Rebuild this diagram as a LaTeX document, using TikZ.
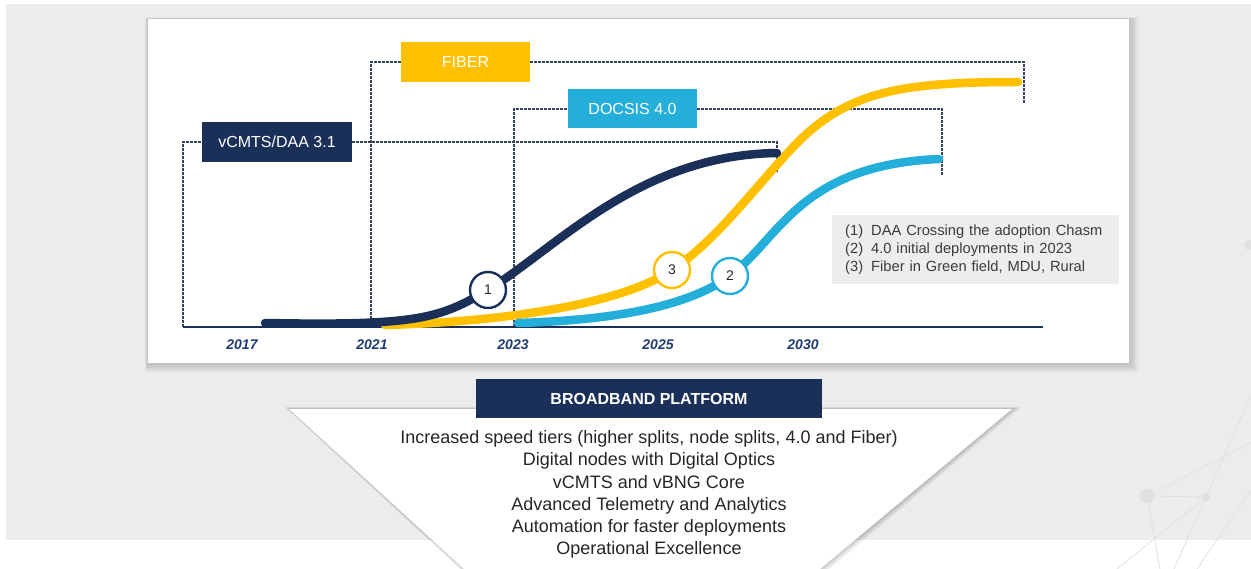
\documentclass[tikz,border=0pt]{standalone}
\usepackage{fontspec}
\setmainfont{Liberation Sans}
\usetikzlibrary{positioning}

\definecolor{navy}{HTML}{1B3058}
\definecolor{gold}{HTML}{FFC000}
\definecolor{sky}{HTML}{24AEDA}
\definecolor{bggray}{HTML}{EBECEE}
\definecolor{notegray}{HTML}{EDEDEC}
\definecolor{dashgray}{HTML}{34435F}
\definecolor{yearblue}{HTML}{1F3C72}
\definecolor{textgray}{HTML}{262626}
\definecolor{decor}{HTML}{DFE0E2}

\tikzset{
  tag/.style={minimum height=40pt, inner sep=0pt, text=white, font=\fontsize{16}{16}\selectfont},
  guide/.style={dashgray, line width=1.2pt, dash pattern=on 2.5pt off 1.5pt},
  trend/.style={line width=8.5pt, line cap=round},
  badge/.style={circle, fill=white, line width=2.4pt, minimum size=36pt, inner sep=0pt,
    font=\fontsize{14}{14}\selectfont, text=textgray},
  year/.style={font=\fontsize{14}{14}\selectfont\bfseries\itshape, text=yearblue},
}

\begin{document}
\begin{tikzpicture}[x=1pt, y=-1pt]
\useasboundingbox (0,0) rectangle (1251,569);
\fill[bggray] (6,4) rectangle (1251,540);

% faint network in the corner
\draw[decor, line width=0.8pt]
  (1147,496) -- (1206,497) (1147,496) -- (1251,443) (1147,496) -- (1160,569)
  (1251,395) -- (1174,569) (1206,497) -- (1117,569) (1251,490) -- (1197,569);
\fill[decor] (1147,496) circle (7.5) (1206,497) circle (4.5) (1249,245) circle (5);

% card
\foreach \s in {1,...,8}
  \fill[black, opacity=0.025] ({148-0.4*\s},{19-0.2*\s}) rectangle ({1129+1.2*\s},{363+1.2*\s});
\fill[white] (148,19) rectangle (1129,363);

\node[tag, fill=navy, minimum width=150pt] (vcmts) at (277,142) {vCMTS/DAA 3.1};
\node[tag, fill=gold, minimum width=129pt] (fiber) at (465.5,62) {FIBER};
\node[tag, fill=sky, minimum width=129pt, minimum height=39pt] (docsis) at (632.5,109) {DOCSIS 4.0};

\coordinate (v0) at (183,327);
\coordinate (v3) at (777,172);
\coordinate (f0) at (371,327);
\coordinate (f3) at (1024,103);
\coordinate (d0) at (514,327);
\coordinate (d3) at (942,175);
\coordinate (axisend) at (1043,327);

\draw[guide] (v0) |- (vcmts.west) (vcmts.east) -| (v3);
\draw[guide] (f0) |- (fiber.west) (fiber.east) -| (f3);
\draw[guide] (d0) |- (docsis.west) (docsis.east) -| (d3);
\draw[navy, line width=2pt] (v0) -- (axisend);

\node[year] (y2017) at (242,345) {2017};
\node[year] (y2021) at (372,345) {2021};
\node[year] (y2023) at (513,345) {2023};
\node[year] (y2025) at (658,345) {2025};
\node[year] (y2030) at (803,345) {2030};

\coordinate (c1) at (488,290);
\coordinate (c2) at (730,276);
\coordinate (c3) at (672,270);

\draw[trend, gold] (385,325) .. controls (500,322) and (620,305) .. (c3)
  .. controls (720,238) and (760,180) .. (800,140)
  .. controls (850,92) and (900,82) .. (1018,82);
\draw[trend, sky] (518,323) .. controls (620,320) and (690,305) .. (c2)
  .. controls (780,238) and (800,165) .. (939,159);
\draw[trend, navy] (265,323) .. controls (420,326) and (440,318) .. (c1)
  .. controls (560,245) and (640,155) .. (777,153);

\node[badge, draw=navy] (b1) at (c1) {1};
\node[badge, draw=sky] (b2) at (c2) {2};
\node[badge, draw=gold] (b3) at (c3) {3};

\node[fill=notegray, anchor=north west, minimum width=287pt, minimum height=69pt,
  inner xsep=13pt, inner ysep=0pt, text width=261pt, align=left, text=textgray!90,
  font=\fontsize{14.7}{18}\selectfont] (notes) at (832,215)
  {(1)\hspace{8pt}DAA Crossing the adoption Chasm\\
   (2)\hspace{8pt}4.0 initial deployments in 2023\\
   (3)\hspace{8pt}Fiber in Green field, MDU, Rural};

% funnel
\foreach \s in {1,...,7}
  \fill[black, opacity=0.03] ({289-0.6*\s},{409-0.3*\s}) -- ({1012+1.4*\s},{409-0.3*\s})
    -- ({820+1.4*\s},569) -- ({464-0.6*\s},569) -- cycle;
\fill[white] (289,409) -- (1012,409) -- (820,569) -- (464,569) -- cycle;

\node[fill=navy, text=white, minimum width=346pt, minimum height=39.5pt, inner sep=0pt,
  font=\fontsize{16}{16}\selectfont\bfseries] (platform) at (649,398.5) {BROADBAND PLATFORM};
\node[below=12pt of platform, align=center, inner sep=0pt, text=textgray,
  font=\fontsize{18}{22.2}\selectfont] (features)
  {Increased speed tiers (higher splits, node splits, 4.0 and Fiber)\\
   Digital nodes with Digital Optics\\
   vCMTS and vBNG Core\\
   Advanced Telemetry and Analytics\\
   Automation for faster deployments\\
   Operational Excellence};
\end{tikzpicture}
\end{document}
